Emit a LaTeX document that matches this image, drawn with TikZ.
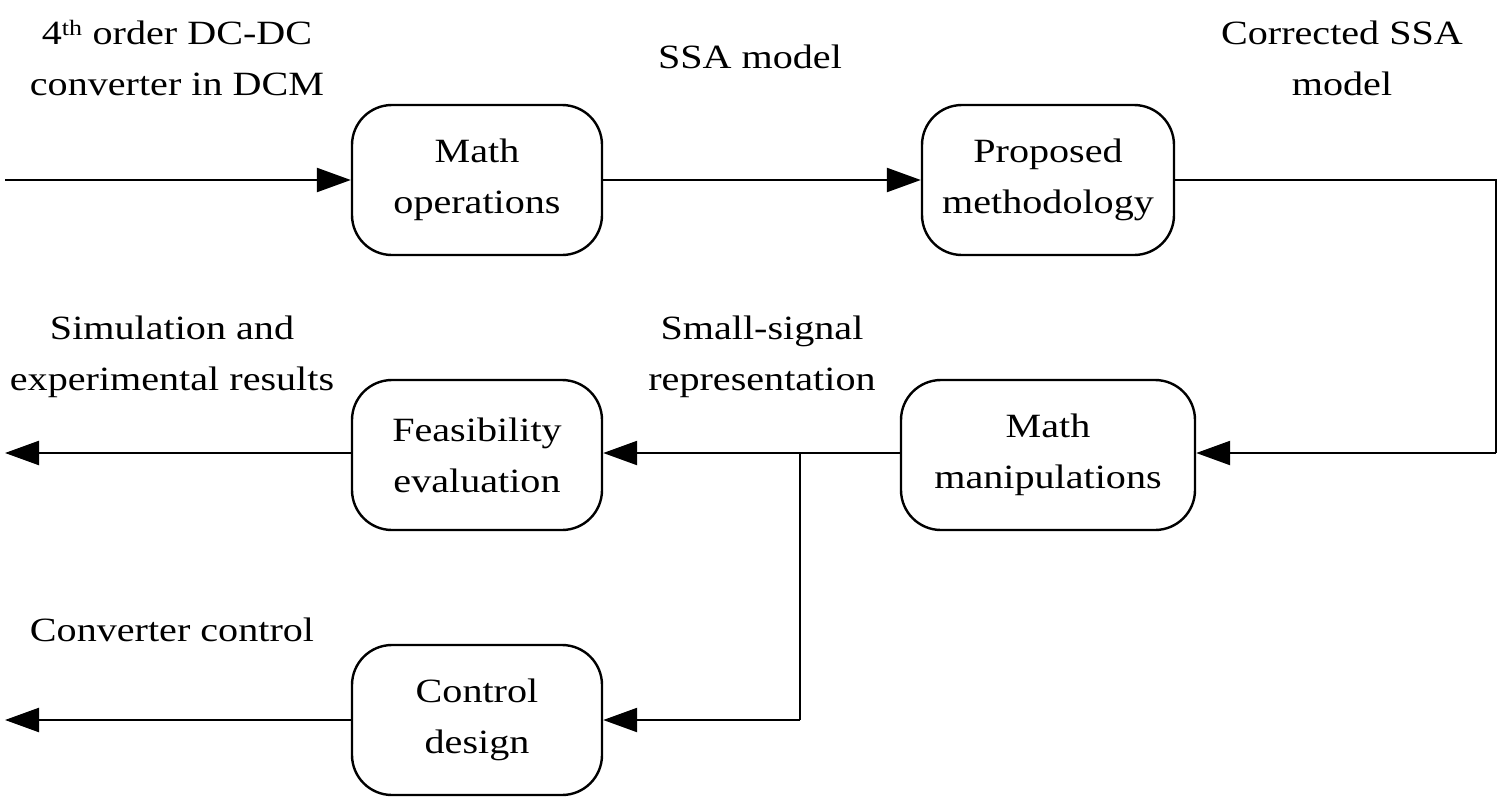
\documentclass[tikz,border=0pt]{standalone}
\usepackage{fontspec}
\setmainfont[FakeStretch=1.18]{Liberation Serif}
\usetikzlibrary{arrows.meta}
\begin{document}
\begin{tikzpicture}[x=1pt,y=-1pt,
  blk/.style={draw,line width=2.4pt,rounded corners=40pt,minimum width=250pt,minimum height=150pt,align=center,inner sep=0pt,font=\fontsize{34}{51}\selectfont},
  lbl/.style={align=center,inner sep=0pt,font=\fontsize{34}{51}\selectfont},
  conn/.style={line width=2.4pt,-{Triangle[length=34pt,width=24pt]}},
  wire/.style={line width=2.4pt}]
\useasboundingbox (0,0) rectangle (1502,809);
\node[blk] (mo) at (477,180) {Math\\operations};
\node[blk,minimum width=252pt] (pm) at (1048,180) {Proposed\\methodology};
\node[blk,minimum width=294pt] (mm) at (1048,455) {Math\\manipulations};
\node[blk] (fe) at (477,455) {Feasibility\\evaluation};
\node[blk] (cd) at (477,720) {Control\\design};
\coordinate (in) at (5,180);
\coordinate (o1) at (5,453);
\coordinate (o2) at (5,720);
\coordinate (rt) at (1496,180);
\coordinate (rb) at (1496,453);
\coordinate (br) at (800,453);
\coordinate (bb) at (800,720);
\draw[conn] (in) -- (mo.west);
\draw[conn] (mo.east) -- (pm.west);
\draw[wire] (pm.east) -- (rt) -- (rb);
\draw[conn] (rb) -- (mm.east |- rb);
\draw[conn] (mm.west |- rb) -- (fe.east |- rb);
\draw[conn] (fe.west |- o1) -- (o1);
\draw[wire] (br) -- (bb);
\draw[conn] (bb) -- (cd.east);
\draw[conn] (cd.west) -- (o2);
\node[lbl] (l1) at (177,58) {4\textsuperscript{\fontsize{22}{22}\selectfont th} order DC-DC\\converter in DCM};
\node[lbl] (l2) at (750,57) {SSA model};
\node[lbl] (l3) at (1342,58) {Corrected SSA\\model};
\node[lbl] (l4) at (172,357) {Simulation and\\experimental results};
\node[lbl] (l5) at (762,357) {Small-signal\\representation};
\node[lbl] (l6) at (172,630) {Converter control};
\end{tikzpicture}
\end{document}
